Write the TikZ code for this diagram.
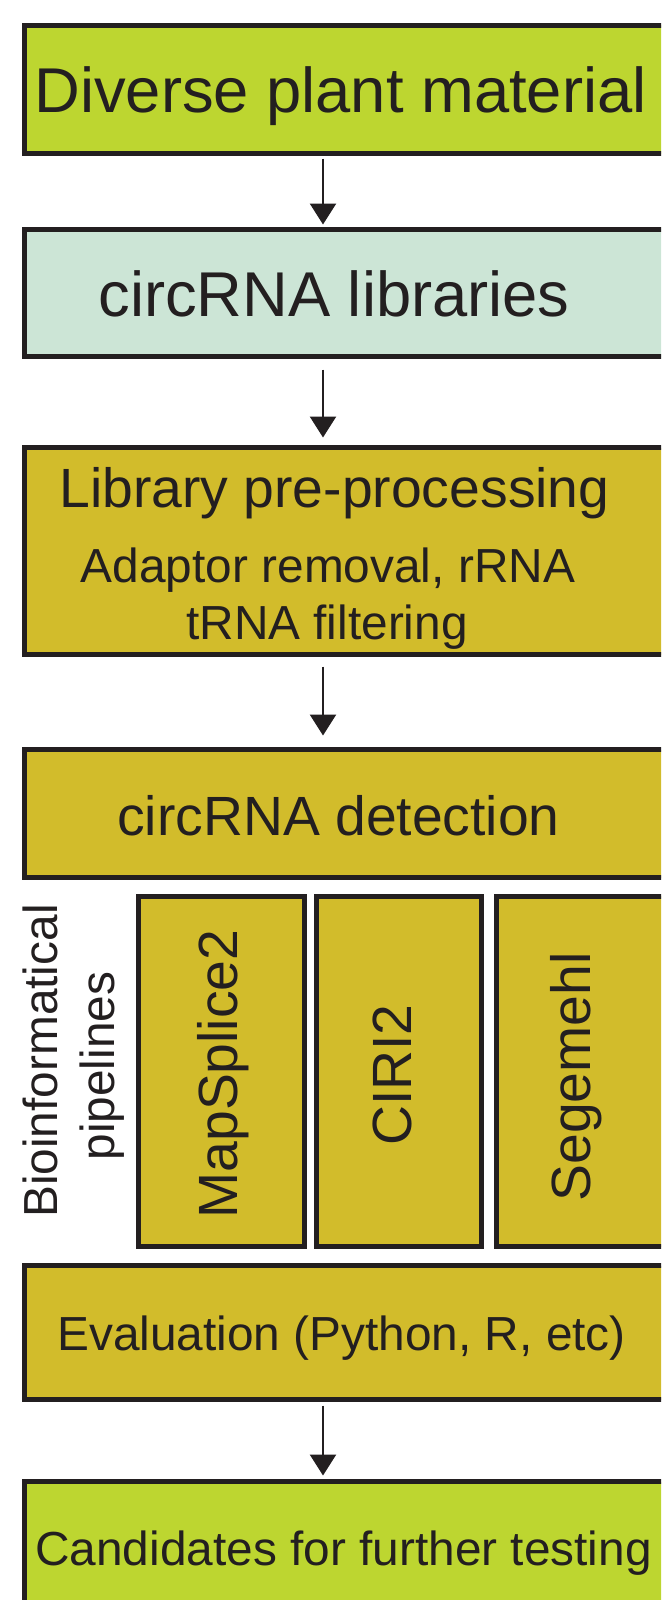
\documentclass[tikz,border=0pt]{standalone}
\usepackage{fontspec}
\setmainfont{Liberation Sans}
\usetikzlibrary{arrows.meta,calc}
\definecolor{limefill}{RGB}{189,214,48}
\definecolor{mintfill}{RGB}{204,229,214}
\definecolor{mustfill}{RGB}{210,188,43}
\definecolor{edgec}{RGB}{35,31,32}
\newcommand\fsBig{\fontsize{63.3pt}{76pt}\selectfont}
\newcommand\fsMid{\fontsize{55.3pt}{66pt}\selectfont}
\newcommand\fsSml{\fontsize{47.8pt}{57pt}\selectfont}
\begin{document}
\begin{tikzpicture}[x=1pt,y=-1pt,
  box/.style={draw=edgec, line width=5pt, inner sep=0pt, rectangle},
  arr/.style={draw=edgec, line width=2.5pt, -{Triangle[width=26pt,length=21pt]}},
  lbl/.style={anchor=base, text=edgec, inner sep=0pt}]
\useasboundingbox (0,0) rectangle (661,1600);
\clip (0,0) rectangle (661,1600);
\fill[white] (0,0) rectangle (661,1600);
% main boxes
\node[box, fill=limefill, minimum width=639.5pt, minimum height=128.3pt] (b1) at (344.25,89.35) {};
\node[box, fill=mintfill, minimum width=639.5pt, minimum height=127.5pt] (b2) at (344.25,292.75) {};
\node[box, fill=mustfill, minimum width=639.5pt, minimum height=207pt] (b3) at (344.25,551) {};
\node[box, fill=mustfill, minimum width=639.5pt, minimum height=128pt] (b4) at (344.25,813.5) {};
\node[box, fill=mustfill, minimum width=165.3pt, minimum height=350.8pt] (s1) at (221.35,1071.4) {};
\node[box, fill=mustfill, minimum width=164.9pt, minimum height=350.8pt] (s2) at (399.05,1071.4) {};
\node[box, fill=mustfill, minimum width=167.4pt, minimum height=350.8pt] (s3) at (580.3,1071.4) {};
\node[box, fill=mustfill, minimum width=639.5pt, minimum height=134pt] (b5) at (344.25,1332.5) {};
\node[box, fill=limefill, minimum width=639.5pt, minimum height=157pt] (b6) at (344.25,1560) {};
% texts
\node[lbl, font=\fsBig] (t1) at (340.5,113) {Diverse plant material};
\node[lbl, font=\fsBig] (t2) at (334,316.7) {circRNA libraries};
\node[lbl, font=\fsMid] (t3a) at (334.5,507) {Library pre-processing};
\node[lbl, font=\fsSml] (t3b) at (328,582) {Adaptor removal, rRNA};
\node[lbl, font=\fsSml] (t3c) at (327,639) {tRNA filtering};
\node[lbl, font=\fsMid] (t4) at (338.5,835) {circRNA detection};
\node[lbl, font=\fsSml, rotate=90] (v1) at (57,1061) {Bioinformatical};
\node[lbl, font=\fsSml, rotate=90] (v2) at (114,1066) {pipelines};
\node[lbl, font=\fsMid, rotate=90] (m1) at (237.5,1074) {MapSplice2};
\node[lbl, font=\fsMid, rotate=90] (m2) at (411.5,1075) {CIRI2};
\node[lbl, font=\fsMid, rotate=90] (m3) at (590,1077) {Segemehl};
\node[lbl, font=\fsSml] (t5) at (341.5,1350) {Evaluation (Python, R, etc)};
\node[lbl, font=\fsSml] (t6) at (343.5,1565) {Candidates for further testing};
% arrows
\coordinate (ax) at (323,0);
\draw[arr] ($(b1.south -| ax)+(0,2.5)$) -- ($(b2.north -| ax)+(0,-2)$);
\draw[arr] ($(b2.south -| ax)+(0,10.5)$) -- ($(b3.north -| ax)+(0,-7.5)$);
\draw[arr] ($(b3.south -| ax)+(0,9.5)$) -- ($(b4.north -| ax)+(0,-11.5)$);
\draw[arr] ($(b5.south -| ax)+(0,3.5)$) -- ($(b6.north -| ax)+(0,-3.5)$);
\end{tikzpicture}
\end{document}
